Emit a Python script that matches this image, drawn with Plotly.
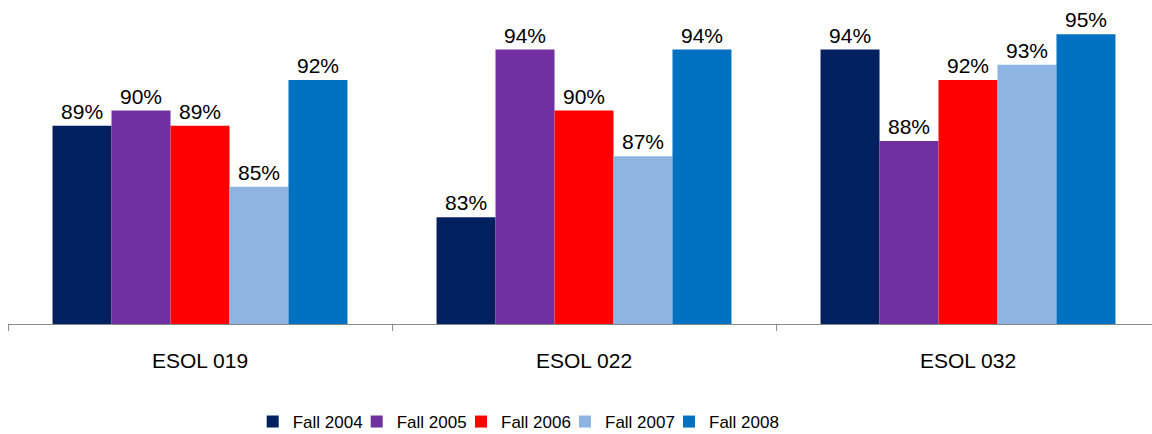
import plotly.graph_objects as go

# Course sections and term series
courses = ["ESOL 019", "ESOL 022", "ESOL 032"]
terms = ["Fall 2004", "Fall 2005", "Fall 2006", "Fall 2007", "Fall 2008"]

# Percentage values per term, one entry per course
fall_2004 = [89, 83, 94]
fall_2005 = [90, 94, 88]
fall_2006 = [89, 90, 92]
fall_2007 = [85, 87, 93]
fall_2008 = [92, 94, 95]

series = [fall_2004, fall_2005, fall_2006, fall_2007, fall_2008]
colors = ["#002060", "#7030A0", "#FF0000", "#8EB4E3", "#0070C0"]

FONT = "Liberation Sans, Arial, Helvetica, sans-serif"

W, H = 1152, 434
ML, MR, MT, MB = 8, 0, 19, 110
plot_w = W - ML - MR
cat_px = 384.0

# left edge (px) of each legend entry's text, one legend per term
legend_text_px = [292.7, 396.7, 501.0, 605.0, 709.0]
legend_center_px = 422.0

fig = go.Figure()
legend_ids = ["legend"] + [f"legend{i}" for i in range(2, len(terms) + 1)]
for name, vals, col, lid in zip(terms, series, colors, legend_ids):
    fig.add_trace(go.Bar(
        x=courses,
        y=vals,
        name=name,
        legend=lid,
        marker=dict(color=col, line=dict(width=0)),
        text=[f"{v}%" for v in vals],
        textposition="outside",
        textfont=dict(family=FONT, size=21, color="#000000"),
        constraintext="none",
        cliponaxis=False,
    ))

legends = {}
for lid, tx in zip(legend_ids, legend_text_px):
    legends[lid] = dict(
        orientation="h",
        xref="container",
        yref="container",
        x=(tx - 40) / W,
        xanchor="left",
        y=(H - legend_center_px) / H,
        yanchor="middle",
        font=dict(family=FONT, size=17, color="#000000"),
        itemwidth=30,
        bgcolor="rgba(0,0,0,0)",
    )

fig.update_layout(
    width=W,
    height=H,
    margin=dict(l=ML, r=MR, t=MT, b=MB, pad=0, autoexpand=False),
    paper_bgcolor="white",
    plot_bgcolor="white",
    barmode="group",
    bargap=0.232,
    bargroupgap=0,
    font=dict(family=FONT, color="#000000"),
    showlegend=True,
    xaxis=dict(
        range=[-0.5, -0.5 + plot_w / cat_px],
        automargin=False,
        showline=True,
        linecolor="#898989",
        linewidth=1,
        ticks="outside",
        ticklen=6,
        tickcolor="#898989",
        tickwidth=1,
        tickson="boundaries",
        showgrid=False,
        zeroline=False,
        tickfont=dict(family=FONT, size=21, color="#000000"),
        ticklabelstandoff=18,
    ),
    yaxis=dict(
        range=[76, 96],
        automargin=False,
        visible=False,
        showgrid=False,
        zeroline=False,
    ),
    **legends,
)

fig.write_html("out.html")
